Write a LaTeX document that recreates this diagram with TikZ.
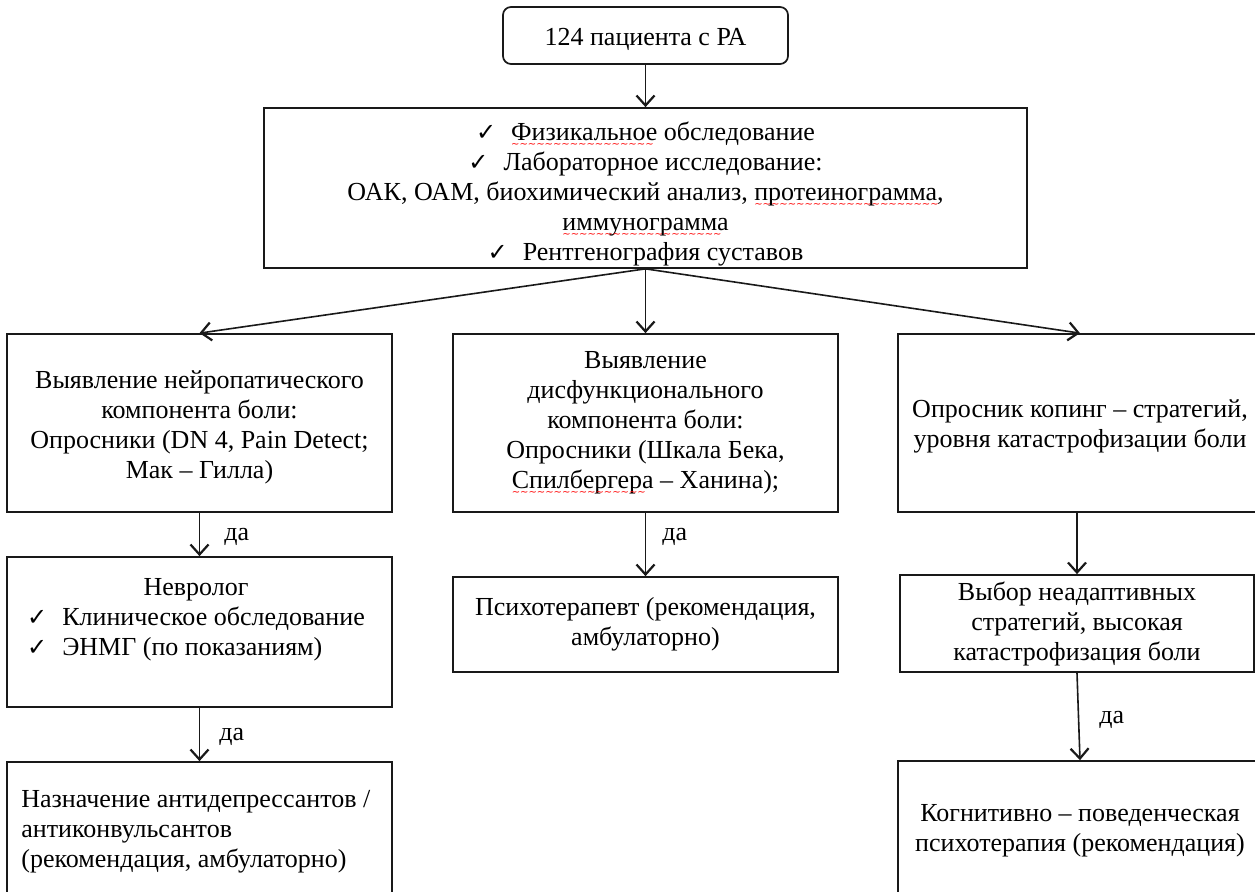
\documentclass[tikz,border=0pt]{standalone}
\usepackage{fontspec}
\setmainfont{Liberation Serif}
\newfontfamily\chk{DejaVu Sans}
\usetikzlibrary{arrows.meta}
\newsavebox\sperrbox
\newcommand\sperr[1]{\sbox\sperrbox{#1}\rlap{\usebox\sperrbox}\raisebox{-3.6pt}[0pt][0pt]{\textcolor{red}{\chk\fontsize{5}{5}\selectfont\leaders\hbox{∼}\hskip\wd\sperrbox}}}
\newcommand\ck{{\chk\fontsize{12}{12}\selectfont ✓}\hspace{7.5pt}}
\begin{document}
\begin{tikzpicture}[x=0.5pt,y=-0.5pt,
  font=\fontsize{13}{15}\selectfont,
  >={Straight Barb[length=5pt,width=9pt,line width=1.1pt]},
  box/.style={draw=black!90, line width=0.85pt, inner sep=0pt, align=center},
  txt/.style={inner sep=0pt, align=center},
  arr/.style={->, line width=0.8pt, draw=black!90},
  lbl/.style={inner sep=0pt, anchor=west}]
\useasboundingbox (0,0) rectangle (1255,892);
\clip (0,0) rectangle (1255,892);
\fill[white] (0,0) rectangle (1255,892);

% top
\node[box, rounded corners=4pt, minimum width=142.5pt, minimum height=28.5pt] (top) at (645.5,35.5) {};
\node[txt] (topt) at (645.5,39) {124 пациента с РА};

% examination
\node[box, minimum width=381.5pt, minimum height=80pt] (exam) at (645.5,188) {};
\node[txt] (examt) at (645.5,194) {\ck\sperr{Физикальное} обследование\\
  \ck Лабораторное исследование:\\
  ОАК, ОАМ, биохимический анализ, \sperr{протеинограмма,}\\
  \sperr{иммунограмма}\\
  \ck Рентгенография суставов};

% left column
\node[box, minimum width=192.5pt, minimum height=89pt] (L1) at (199.5,423) {};
\node[txt] (L1t) at (199.5,427) {Выявление нейропатического\\компонента боли:\\Опросники (DN 4, Pain Detect;\\Мак – Гилла)};
\node[box, minimum width=192.5pt, minimum height=75pt] (L2) at (199.5,632) {};
\node[txt] (L2t) at (196,620) {\begin{tabular}{@{}l@{}}\multicolumn{1}{@{}c@{}}{Невролог}\\
  \ck Клиническое обследование\\
  \ck ЭНМГ (по показаниям)\end{tabular}};
\node[box, minimum width=192.5pt, minimum height=70pt] (L3) at (199.5,832) {};
\node[txt, align=left, anchor=west] (L3t) at (21,832) {Назначение антидепрессантов /\\антиконвульсантов\\(рекомендация, амбулаторно)};

% middle column
\node[box, minimum width=192.5pt, minimum height=89pt] (M1) at (645.5,423) {Выявление\\дисфункционального\\компонента боли:\\Опросники (Шкала Бека,\\\sperr{Спилбергера} – Ханина);};
\node[box, minimum width=192.5pt, minimum height=47.5pt] (M2) at (645.5,624.5) {Психотерапевт (рекомендация,\\амбулаторно)};

% right column
\node[box, minimum width=182pt, minimum height=89pt] (R1) at (1080,423) {};
\node[txt] (R1t) at (1080,426) {Опросник копинг – стратегий,\\уровня катастрофизации боли};
\node[box, minimum width=177pt, minimum height=48.5pt] (R2) at (1077,623.5) {Выбор неадаптивных\\стратегий, высокая\\катастрофизация боли};
\node[box, minimum width=182pt, minimum height=84.5pt] (R3) at (1080,845.5) {};
\node[txt] (R3t) at (1080,831) {Когнитивно – поведенческая\\психотерапия (рекомендация)};

% connectors
\draw[arr] (top) -- (exam);
\draw[arr] (exam.south) -- (L1.north);
\draw[arr] (exam.south) -- (M1.north);
\draw[arr] (exam.south) -- (R1.north);
\draw[arr] (L1) -- node[lbl, pos=0.55, xshift=12pt] (da1) {да} (L2);
\draw[arr] (L2) -- node[lbl, pos=0.55, xshift=9.5pt] (da2) {да} (L3);
\draw[arr] (M1) -- node[lbl, pos=0.38, xshift=8pt] (da3) {да} (M2);
\draw[arr] (R2.north |- R1.south) -- (R2.north);
\draw[arr] (R2.south) -- node[lbl, pos=0.54, xshift=10pt] (da4) {да} (R3t.north |- R3.north);
\end{tikzpicture}
\end{document}
